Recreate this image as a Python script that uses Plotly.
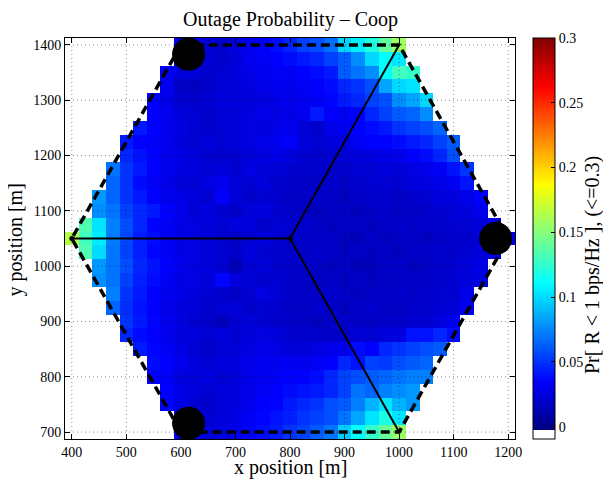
import plotly.graph_objects as go

# ---------------- data ----------------
x_centers = list(range(400, 1201, 25))          # 33 columns
y_rows = list(range(1400, 699, -25))            # 29 rows, top -> bottom
row_first_x = [600, 600, 575, 575, 550, 550, 525, 500, 500, 475, 475, 450, 450, 425, 400,
               425, 450, 450, 475, 475, 500, 500, 525, 550, 550, 575, 575, 600, 600]
# outage probability in thousandths, per row starting at row_first_x
outage_per_mille = [
    [30, 28, 22, 20, 26, 30, 33, 38, 45, 54, 58, 68, 98, 106, 120, 140, 158],
    [28, 26, 22, 20, 24, 30, 32, 35, 38, 42, 46, 54, 62, 77, 99, 111, 104],
    [32, 26, 24, 20, 22, 25, 28, 30, 32, 33, 35, 38, 42, 62, 69, 77, 111, 130, 126],
    [30, 18, 16, 20, 22, 24, 26, 28, 30, 30, 32, 34, 38, 46, 50, 58, 84, 99, 103],
    [35, 28, 22, 20, 22, 24, 25, 24, 26, 28, 30, 30, 33, 36, 42, 46, 54, 58, 77, 84, 99],
    [34, 30, 25, 22, 20, 22, 24, 26, 28, 26, 28, 30, 42, 33, 31, 35, 46, 54, 62, 65, 77],
    [42, 35, 30, 26, 22, 20, 22, 24, 26, 25, 28, 30, 23, 20, 28, 32, 35, 38, 42, 50, 54, 58, 65],
    [42, 35, 32, 30, 25, 22, 24, 22, 24, 26, 28, 30, 34, 24, 22, 24, 27, 31, 35, 35, 38, 42, 46, 54, 62],
    [46, 40, 35, 30, 28, 24, 22, 20, 22, 24, 26, 28, 26, 22, 20, 22, 24, 24, 26, 28, 30, 35, 38, 46, 58],
    [69, 50, 42, 35, 30, 27, 24, 22, 24, 22, 26, 24, 22, 22, 20, 20, 18, 20, 22, 22, 24, 24, 26, 28, 32, 40, 50],
    [65, 50, 38, 32, 28, 24, 22, 26, 30, 24, 22, 24, 20, 20, 18, 18, 20, 18, 20, 22, 22, 22, 24, 26, 28, 32, 40],
    [80, 65, 50, 42, 35, 30, 28, 24, 22, 34, 24, 20, 22, 20, 18, 18, 20, 18, 16, 18, 20, 20, 18, 20, 22, 24, 26, 28, 35],
    [77, 69, 54, 46, 42, 35, 30, 24, 26, 22, 20, 24, 26, 22, 20, 18, 16, 18, 18, 16, 18, 20, 18, 18, 20, 22, 24, 26, 30],
    [134, 103, 73, 58, 46, 35, 32, 28, 26, 24, 22, 26, 24, 20, 22, 22, 20, 18, 16, 18, 18, 16, 18, 20, 18, 20, 20, 22, 22, 24, 28],
    [164, 130, 105, 72, 56, 44, 38, 32, 28, 26, 24, 22, 18, 22, 24, 22, 20, 18, 18, 18, 16, 14, 18, 16, 18, 18, 16, 18, 20, 20, 22, 26, 30],
    [134, 100, 70, 55, 44, 36, 32, 28, 26, 24, 22, 20, 24, 22, 20, 20, 18, 20, 18, 16, 18, 16, 18, 16, 18, 18, 20, 20, 22, 24, 28],
    [80, 69, 58, 46, 40, 35, 30, 26, 24, 22, 14, 22, 24, 20, 20, 18, 18, 16, 18, 14, 16, 18, 20, 16, 18, 20, 22, 24, 28],
    [77, 69, 54, 44, 38, 32, 28, 26, 24, 36, 26, 22, 20, 22, 20, 18, 16, 18, 16, 18, 16, 18, 18, 20, 18, 20, 22, 24, 26],
    [73, 50, 42, 35, 30, 28, 24, 22, 20, 18, 22, 26, 22, 20, 18, 18, 20, 18, 16, 18, 18, 20, 18, 20, 22, 22, 28],
    [65, 48, 40, 34, 28, 26, 24, 20, 22, 24, 20, 22, 20, 18, 18, 20, 18, 16, 18, 20, 18, 18, 20, 20, 22, 24, 30],
    [50, 42, 36, 30, 26, 22, 20, 16, 22, 24, 22, 20, 20, 18, 16, 18, 20, 18, 18, 20, 20, 22, 22, 26, 32],
    [46, 38, 34, 30, 26, 24, 22, 24, 22, 24, 26, 24, 22, 20, 20, 18, 20, 22, 22, 24, 26, 40, 40, 46, 38],
    [42, 36, 32, 28, 22, 20, 22, 24, 26, 28, 26, 24, 24, 26, 28, 30, 38, 35, 46, 50, 54, 58, 62],
    [38, 34, 30, 24, 22, 24, 26, 28, 30, 30, 32, 30, 32, 35, 46, 40, 54, 52, 58, 62, 65],
    [35, 32, 26, 24, 26, 22, 24, 28, 30, 32, 35, 35, 38, 46, 54, 58, 62, 65, 69, 73, 73],
    [35, 28, 24, 22, 24, 26, 28, 32, 35, 38, 40, 42, 46, 54, 69, 65, 73, 77, 80],
    [34, 28, 22, 20, 24, 26, 30, 34, 36, 42, 46, 50, 58, 62, 73, 88, 103, 88, 80],
    [30, 26, 22, 24, 28, 32, 36, 40, 44, 50, 54, 58, 69, 84, 103, 118, 103],
    [30, 28, 24, 26, 30, 34, 38, 42, 50, 54, 62, 69, 96, 111, 126, 141, 156],
]

hex_x = [600, 1000, 1200, 1000, 600, 400, 600]
hex_y = [1400, 1400, 1050, 700, 700, 1050, 1400]
center_x, center_y = 800, 1050
sector_ends_x = [1000, 1000]
sector_ends_y = [1400, 700]
left_line_x = [400, 800]
left_line_y = [1050, 1050]
bs_x = [614, 614, 1177]
bs_y = [1383, 716, 1050]

x_ticks = [400, 500, 600, 700, 800, 900, 1000, 1100, 1200]
y_ticks = [700, 800, 900, 1000, 1100, 1200, 1300, 1400]
cb_ticks = [0, 0.05, 0.1, 0.15, 0.2, 0.25, 0.3]
cb_ticktext = ["0", "0.05", "0.1", "0.15", "0.2", "0.25", "0.3"]
z_min, z_max = -0.0095, 0.3

# ---------------- build grid ----------------
z = []
for first_x, vals in zip(row_first_x, outage_per_mille):
    row = [None] * len(x_centers)
    i0 = x_centers.index(first_x)
    for k, v in enumerate(vals):
        row[i0 + k] = v / 1000.0
    z.append(row)

# colorscale: white slot at bottom, then jet
f = 0.0214
jet = [(0.0, (0, 0, 128)), (0.125, (0, 0, 255)), (0.375, (0, 255, 255)),
       (0.625, (255, 255, 0)), (0.875, (255, 0, 0)), (1.0, (128, 0, 0))]
cscale = [[0.0, "rgb(255,255,255)"], [f, "rgb(255,255,255)"]]
for t, c in jet:
    cscale.append([f + t * (1 - f), "rgb(%d,%d,%d)" % c])

FONT = "Liberation Serif, Times New Roman, serif"

# the page body adds an 8px offset; the figure is laid out to compensate
W, H = 603, 473
L, T, R, B = 57, 30, 96, 42
PW, PH = W - L - R, H - T - B       # 450 x 401


def px_x(px):   # page pixel -> paper x
    return (px - 8 - L) / PW


def px_y(py):   # page pixel -> paper y
    return (H - B - (py - 8)) / PH


fig = go.Figure()
fig.add_trace(go.Heatmap(
    x=x_centers, y=y_rows, z=z, zmin=z_min, zmax=z_max,
    colorscale=cscale, hoverongaps=False,
    colorbar=dict(
        x=px_x(532.7), xanchor="left", xpad=0, ypad=0,
        y=0.5, yanchor="middle", len=1, lenmode="fraction",
        thickness=22, outlinecolor="black", outlinewidth=1,
        tickvals=cb_ticks, ticktext=cb_ticktext,
        ticks="inside", ticklen=4, tickcolor="black",
        tickfont=dict(family=FONT, size=14, color="black"),
    ),
))

# dashed hexagon
fig.add_trace(go.Scatter(x=hex_x, y=hex_y, mode="lines",
                         line=dict(color="black", width=3.5, dash="9px,5px"),
                         hoverinfo="skip", showlegend=False))
# sector lines
for ex, ey in zip(sector_ends_x, sector_ends_y):
    fig.add_trace(go.Scatter(x=[center_x, ex], y=[center_y, ey], mode="lines",
                             line=dict(color="black", width=2),
                             hoverinfo="skip", showlegend=False))
fig.add_trace(go.Scatter(x=left_line_x, y=left_line_y, mode="lines+markers",
                         line=dict(color="black", width=2),
                         marker=dict(color="black", size=5),
                         hoverinfo="skip", showlegend=False))
# base stations
fig.add_trace(go.Scatter(x=bs_x, y=bs_y, mode="markers", cliponaxis=False,
                         marker=dict(color="black", size=33, line=dict(width=0)),
                         hoverinfo="skip", showlegend=False))

shapes = []
grid_line = dict(color="rgba(0,0,0,0.45)", width=1, dash="1px,3px")
for gx in x_ticks:
    shapes.append(dict(type="line", xref="x", yref="paper", x0=gx, x1=gx, y0=0, y1=1,
                       line=grid_line, layer="above"))
for gy in y_ticks:
    shapes.append(dict(type="line", xref="paper", yref="y", x0=0, x1=1, y0=gy, y1=gy,
                       line=grid_line, layer="above"))

axis_common = dict(showgrid=False, zeroline=False, showline=True, linecolor="black",
                   linewidth=1, mirror="ticks", ticks="inside", ticklen=5,
                   tickcolor="black", tickfont=dict(family=FONT, size=14, color="black"))

fig.update_layout(
    width=W, height=H,
    margin=dict(l=L, r=R, t=T, b=B),
    paper_bgcolor="white", plot_bgcolor="white",
    xaxis=dict(range=[387.5, 1212.5], tickvals=x_ticks, **axis_common),
    yaxis=dict(range=[687.5, 1412.5], tickvals=y_ticks, **axis_common),
    shapes=shapes,
    annotations=[
        dict(text="Outage Probability – Coop", xref="paper", yref="paper",
             x=0.5, y=px_y(20), xanchor="center", yanchor="middle",
             showarrow=False, font=dict(family=FONT, size=20, color="black")),
        dict(text="x position [m]", xref="paper", yref="paper",
             x=0.5, y=px_y(467), xanchor="center", yanchor="middle", borderpad=0,
             showarrow=False, font=dict(family=FONT, size=20, color="black")),
        dict(text="y position [m]", xref="paper", yref="paper",
             x=px_x(15.5), y=px_y(240), xanchor="center", yanchor="middle", borderpad=0,
             textangle=-90, showarrow=False, font=dict(family=FONT, size=20, color="black")),
        dict(text="Pr[ R &lt; 1 bps/Hz ], (&lt;=0.3)", xref="paper", yref="paper",
             x=px_x(592), y=px_y(265), xanchor="center", yanchor="middle", borderpad=0,
             textangle=-90, showarrow=False, font=dict(family=FONT, size=20, color="black")),
    ],
)

fig.write_html("out.html")
